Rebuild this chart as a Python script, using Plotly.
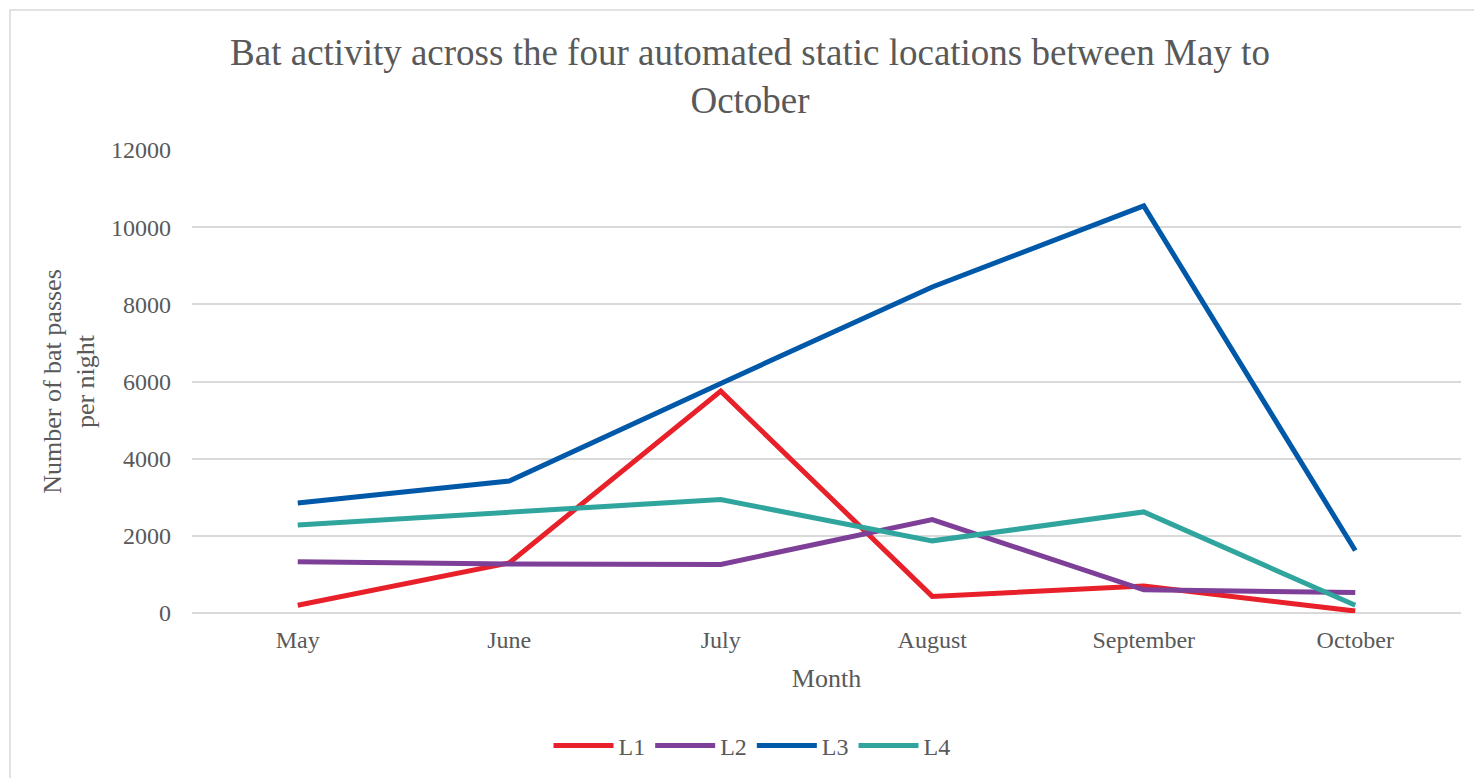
import plotly.graph_objects as go

months = ["May", "June", "July", "August", "September", "October"]
L1 = [200, 1300, 5750, 430, 700, 50]
L2 = [1330, 1270, 1260, 2420, 600, 530]
L3 = [2850, 3420, 5950, 8450, 10550, 1620]
L4 = [2280, 2600, 2940, 1870, 2620, 200]
series_names = ["L1", "L2", "L3", "L4"]
series_colors = ["#E8202A", "#7E3F98", "#0058A8", "#30A59E"]
y_ticks = [0, 2000, 4000, 6000, 8000, 10000, 12000]
y_tick_text = ["0", "2000", "4000", "6000", "8000", "10000", "12000"]

OFF = 8  # page body margin
W, H = 1482 - OFF, 778 - OFF
L, R, T, B = 192 - OFF, 21, 150 - OFF, 165
pw, ph = W - L - R, H - T - B

def px_x(p):
    return (p - OFF - L) / pw

def px_y(p):
    return (H - B - (p - OFF)) / ph

font_family = "Liberation Serif, Times New Roman, serif"
gray = "#595959"

fig = go.Figure()
for name, vals, col in zip(series_names, [L1, L2, L3, L4], series_colors):
    fig.add_trace(go.Scatter(x=months, y=vals, name=name, mode="lines",
                             line=dict(color=col, width=5)))

fig.update_layout(
    width=W, height=H,
    margin=dict(l=L, r=R, t=T, b=B, autoexpand=False),
    paper_bgcolor="white", plot_bgcolor="white",
    font=dict(family=font_family, color=gray, size=24),
    title=dict(text="Bat activity across the four automated static locations between May to<br>October",
               x=px_x(750), xref="paper", xanchor="center",
               y=1 - 57 / H, yref="container", yanchor="top",
               font=dict(size=37, color=gray, family=font_family)),
    xaxis=dict(showgrid=False, showline=False, zeroline=False,
               range=[-0.5, 5.5],
               tickfont=dict(size=24, color=gray), ticklabelstandoff=10,
               title=dict(text="Month", font=dict(size=26, color=gray), standoff=16)),
    yaxis=dict(range=[0, 12000], tickvals=y_ticks, ticktext=y_tick_text, showgrid=True,
               gridcolor="#d9d9d9", gridwidth=1.5, zeroline=True,
               zerolinecolor="#d9d9d9", zerolinewidth=1.5, showline=False,
               tickfont=dict(size=24, color=gray), ticklabelstandoff=20,
               title=dict(text="Number of bat passes<br>per night",
                          font=dict(size=26, color=gray), standoff=8)),
    legend=dict(orientation="h", x=px_x(752), xanchor="center",
                y=px_y(746), yanchor="middle", font=dict(size=24, color=gray),
                itemwidth=60, tracegroupgap=0),
    showlegend=True,
)

fig.add_shape(type="rect", xref="paper", yref="paper",
              x0=px_x(10), x1=px_x(1500), y0=px_y(800), y1=px_y(10),
              line=dict(color="#d9d9d9", width=1.5), layer="below")

fig.write_html("out.html")
